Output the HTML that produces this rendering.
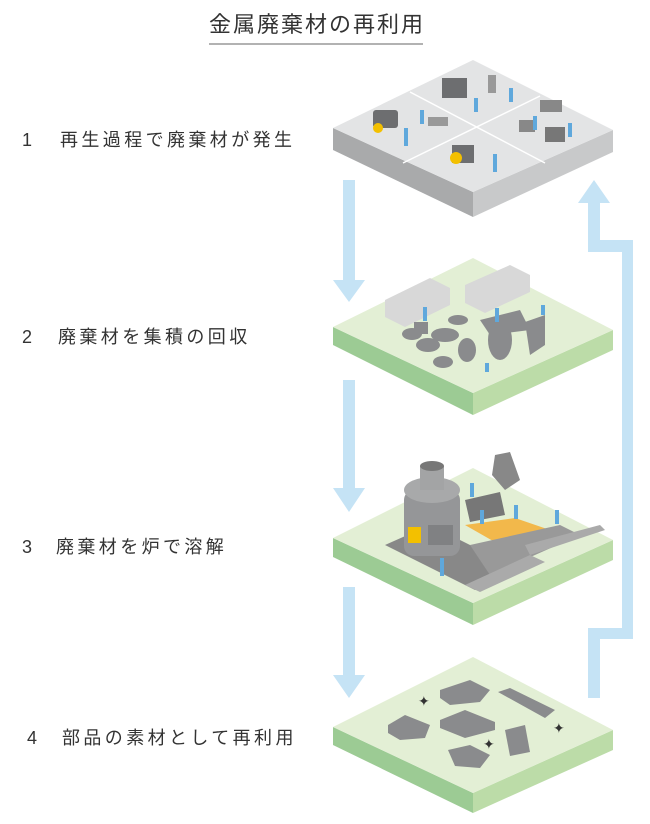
<!DOCTYPE html>
<html><head><meta charset="utf-8"><style>
html,body{margin:0;padding:0;background:#fff;width:650px;height:824px;overflow:hidden}
svg{display:block}
text{font-family:"Liberation Sans","Noto Sans CJK JP",sans-serif;fill:#333}
</style></head><body>
<svg width="650" height="824" viewBox="0 0 650 824" xmlns="http://www.w3.org/2000/svg">
<text x="317" y="32" font-size="22" letter-spacing="2" text-anchor="middle" fill="#333">金属廃棄材の再利用</text>
<line x1="209" y1="44" x2="423" y2="44" stroke="#999" stroke-width="1.5"/>

<g font-size="18">
<text x="22" y="146">1</text><text x="60" y="146" letter-spacing="3.4">再生過程で廃棄材が発生</text>
<text x="22" y="343">2</text><text x="58" y="343" letter-spacing="3.4">廃棄材を集積の回収</text>
<text x="22" y="553">3</text><text x="56" y="553" letter-spacing="3.4">廃棄材を炉で溶解</text>
<text x="27" y="744">4</text><text x="62" y="744" letter-spacing="3.4">部品の素材として再利用</text>
</g>

<!-- arrows -->
<g fill="#c5e3f5">
<polygon points="343,180 355,180 355,280 365,280 349,302 333,280 343,280"/>
<polygon points="343,380 355,380 355,488 365,488 349,512 333,488 343,488"/>
<polygon points="343,587 355,587 355,675 365,675 349,698 333,675 343,675"/>
<polygon points="588,698 600,698 600,639 633,639 633,240 600,240 600,203 610,203 594,180 578,203 588,203 588,252 622,252 622,628 588,628"/>
</g>

<!-- tile 1 -->
<g>
<polygon points="333,128 473,192 473,217 333,150" fill="#a9aaab"/>
<polygon points="473,192 613,130 613,152 473,217" fill="#c8c9ca"/>
<polygon points="333,128 473,60 613,130 473,192" fill="#e3e4e5"/>
<line x1="410" y1="92" x2="545" y2="163" stroke="#fff" stroke-width="1.5"/>
<line x1="403" y1="163" x2="540" y2="96" stroke="#fff" stroke-width="1.5"/>
<g fill="#6d6e70">
<rect x="373" y="110" width="25" height="18" rx="3"/><circle cx="378" cy="128" r="5" fill="#f3c000"/>
<rect x="442" y="78" width="25" height="20"/><rect x="488" y="75" width="8" height="18" fill="#999"/>
<rect x="540" y="100" width="22" height="12" fill="#888"/><rect x="545" y="127" width="20" height="15" fill="#777"/>
<rect x="519" y="120" width="16" height="12" fill="#888"/><rect x="428" y="117" width="20" height="9" fill="#999"/>
<rect x="452" y="145" width="22" height="18"/><circle cx="456" cy="158" r="6" fill="#f3c000"/>
</g>
<g fill="#5fa8dc"><rect x="404" y="128" width="4" height="18"/><rect x="493" y="154" width="4" height="18"/><rect x="420" y="110" width="4" height="14"/><rect x="474" y="98" width="4" height="14"/><rect x="509" y="88" width="4" height="14"/><rect x="533" y="116" width="4" height="14"/><rect x="568" y="123" width="4" height="14"/></g>
</g>

<!-- tile 2 -->
<g>
<polygon points="333,327 473,393 473,415 333,345" fill="#9ccb94"/>
<polygon points="473,393 613,330 613,350 473,415" fill="#bcdca8"/>
<polygon points="333,327 473,258 613,330 473,393" fill="#e3efd5"/>
<polygon points="385,300 430,278 450,288 450,305 405,327 385,317" fill="#d8d8d8"/>
<polygon points="465,285 510,265 530,275 530,292 485,313 465,303" fill="#d8d8d8"/>
<g fill="#8a8b8d">
<ellipse cx="412" cy="334" rx="10" ry="6"/><ellipse cx="428" cy="345" rx="12" ry="7"/><rect x="414" y="322" width="14" height="12"/>
<ellipse cx="445" cy="335" rx="14" ry="7"/><ellipse cx="467" cy="350" rx="9" ry="12"/><ellipse cx="500" cy="340" rx="12" ry="20"/>
<ellipse cx="443" cy="362" rx="10" ry="6"/><polygon points="525,322 545,315 545,345 530,355"/><polygon points="480,320 520,310 530,330 490,335"/>
<ellipse cx="458" cy="320" rx="10" ry="5"/>
</g>
<g fill="#5fa8dc"><rect x="423" y="307" width="4" height="14"/><rect x="495" y="308" width="4" height="14"/><rect x="541" y="305" width="4" height="10"/><rect x="485" y="363" width="4" height="9"/></g>
</g>

<!-- tile 3 -->
<g>
<polygon points="333,538 473,603 473,625 333,557" fill="#9ccb94"/>
<polygon points="473,603 613,540 613,560 473,625" fill="#bcdca8"/>
<polygon points="333,538 473,468 613,540 473,603" fill="#e3efd5"/>
<polygon points="385,545 430,525 520,570 475,590" fill="#888"/>
<rect x="404" y="490" width="56" height="66" rx="10" fill="#959698"/>
<ellipse cx="432" cy="490" rx="28" ry="13" fill="#a8a9aa"/>
<rect x="420" y="466" width="24" height="24" fill="#a3a4a5"/><ellipse cx="432" cy="466" rx="12" ry="5" fill="#777"/>
<rect x="408" y="527" width="13" height="16" fill="#f3c000"/>
<rect x="428" y="525" width="25" height="20" fill="#808183"/>
<polygon points="465,500 500,492 505,515 470,522" fill="#777"/>
<polygon points="495,455 510,452 520,480 505,490 492,475" fill="#888"/>
<polygon points="465,525 515,518 550,530 500,545" fill="#f2b84b"/>
<polygon points="470,545 560,525 580,535 490,575" fill="#999"/>
<polygon points="465,585 530,555 545,562 480,592" fill="#aaa"/>
<polygon points="525,545 600,525 605,530 530,555" fill="#aaa"/>
<g fill="#5fa8dc"><rect x="440" y="558" width="4" height="18"/><rect x="480" y="510" width="4" height="14"/><rect x="514" y="505" width="4" height="14"/><rect x="555" y="510" width="4" height="14"/><rect x="470" y="483" width="4" height="14"/></g>
</g>

<!-- tile 4 -->
<g>
<polygon points="333,727 473,793 473,813 333,745" fill="#9ccb94"/>
<polygon points="473,793 613,730 613,750 473,813" fill="#bcdca8"/>
<polygon points="333,727 473,657 613,730 473,793" fill="#e3efd5"/>
<g fill="#8a8b8d">
<polygon points="440,690 470,680 490,690 480,702 450,705 440,698"/>
<polygon points="498,692 510,688 555,710 545,718"/>
<polygon points="440,720 465,710 495,722 495,730 465,738 440,728"/>
<polygon points="388,725 405,715 430,725 425,738 400,740 388,733"/>
<polygon points="505,730 525,725 530,752 510,756"/>
<polygon points="448,750 470,745 490,755 480,768 455,766"/>
</g>
<g font-size="14"><text x="418" y="706" fill="#f5a800">✦</text><text x="483" y="749" fill="#f5a800">✦</text><text x="553" y="733" fill="#f5a800">✦</text></g>
</g>
</svg>
</body></html>
